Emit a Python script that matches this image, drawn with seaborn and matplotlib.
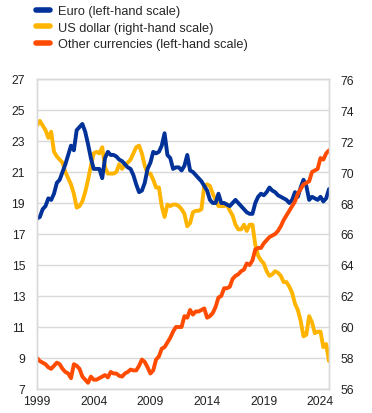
import matplotlib
matplotlib.use("Agg")
import matplotlib.pyplot as plt
import seaborn as sns
import numpy as np
import pandas as pd
from matplotlib.lines import Line2D

# Quarterly data, 1999Q1 - 2024Q4 (shares, %)
years = list(range(1999, 2025))
quarters = [1, 2, 3, 4]

euro = [
    18.0, 18.1, 18.6, 18.8,   # 1999
    19.3, 19.2, 19.6, 20.3,   # 2000
    20.5, 21.0, 21.5, 22.1,   # 2001
    22.7, 22.4, 23.7, 23.9,   # 2002
    24.1, 23.6, 22.8, 21.9,   # 2003
    21.2, 21.2, 21.2, 20.6,   # 2004
    21.9, 22.3, 22.1, 22.1,   # 2005
    22.0, 21.8, 21.7, 21.5,   # 2006
    21.3, 21.2, 20.8, 20.2,   # 2007
    19.7, 19.8, 20.3, 21.2,   # 2008
    21.6, 22.3, 22.2, 22.3,   # 2009
    22.7, 23.5, 22.1, 21.9,   # 2010
    21.2, 21.3, 21.3, 21.1,   # 2011
    21.4, 22.1, 21.1, 21.0,   # 2012
    20.8, 20.6, 20.4, 20.1,   # 2013
    19.8, 19.2, 19.0, 19.0,   # 2014
    19.6, 19.0, 19.0, 18.9,   # 2015
    18.8, 19.0, 19.2, 19.0,   # 2016
    18.8, 18.6, 18.4, 18.3,   # 2017
    18.3, 19.0, 19.4, 19.6,   # 2018
    19.5, 19.7, 20.0, 19.8,   # 2019
    19.7, 19.5, 19.4, 19.3,   # 2020
    19.2, 19.0, 19.2, 19.7,   # 2021
    19.4, 20.0, 20.5, 20.1,   # 2022
    19.2, 19.4, 19.3, 19.2,   # 2023
    19.4, 19.1, 19.3, 19.9,   # 2024
]

usd = [
    73.0, 73.3, 73.0, 72.7,   # 1999
    72.2, 72.6, 71.3, 71.0,   # 2000
    70.8, 70.6, 70.0, 69.6,   # 2001
    69.2, 68.6, 67.7, 67.8,   # 2002
    68.1, 68.7, 69.5, 70.4,   # 2003
    71.2, 71.3, 71.2, 71.6,   # 2004
    70.3, 69.9, 69.9, 69.9,   # 2005
    70.0, 70.5, 70.2, 70.5,   # 2006
    70.6, 70.8, 71.2, 71.6,   # 2007
    71.7, 71.2, 70.4, 69.9,   # 2008
    69.9, 69.5, 69.0, 69.0,   # 2009
    67.8, 67.1, 67.9, 67.8,   # 2010
    67.9, 67.9, 67.8, 67.6,   # 2011
    67.3, 66.5, 66.7, 67.4,   # 2012
    67.5, 67.5, 67.6, 69.1,   # 2013
    69.2, 69.1, 68.6, 68.2,   # 2014
    67.8, 67.8, 67.8, 67.9,   # 2015
    67.5, 67.2, 66.6, 66.3,   # 2016
    66.3, 66.6, 66.2, 66.6,   # 2017
    66.6, 65.3, 64.6, 64.3,   # 2018
    64.1, 63.6, 63.3, 63.4,   # 2019
    63.6, 63.5, 63.3, 62.9,   # 2020
    62.9, 62.6, 62.2, 61.5,   # 2021
    61.1, 60.4, 59.4, 59.5,   # 2022
    60.7, 60.3, 59.6, 59.7,   # 2023
    59.7, 58.7, 58.9, 57.8,   # 2024
]

other = [
    9.0, 8.8, 8.7, 8.6,       # 1999
    8.4, 8.3, 8.5, 8.7,       # 2000
    8.6, 8.3, 8.1, 8.0,       # 2001
    7.7, 8.6, 8.5, 8.3,       # 2002
    7.8, 7.6, 7.4, 7.8,       # 2003
    7.6, 7.6, 7.7, 7.8,       # 2004
    7.9, 7.75, 8.1, 8.0,      # 2005
    8.0, 7.85, 7.8, 8.0,      # 2006
    8.1, 8.25, 8.2, 8.2,      # 2007
    8.5, 8.9, 8.75, 8.4,      # 2008
    8.0, 8.2, 8.9, 9.1,       # 2009
    9.6, 9.7, 10.0, 10.3,     # 2010
    10.7, 11.0, 11.0, 11.0,   # 2011
    11.7, 11.6, 12.1, 11.8,   # 2012
    12.0, 12.0, 12.1, 12.2,   # 2013
    11.6, 11.7, 11.9, 12.3,   # 2014
    12.9, 13.0, 13.5, 13.5,   # 2015
    13.6, 14.1, 14.3, 14.4,   # 2016
    14.6, 14.7, 15.1, 15.0,   # 2017
    15.3, 16.0, 16.1, 16.1,   # 2018
    16.4, 16.6, 16.8, 16.9,   # 2019
    17.0, 17.2, 17.5, 17.9,   # 2020
    18.2, 18.5, 18.8, 19.1,   # 2021
    19.6, 19.9, 20.2, 20.3,   # 2022
    20.4, 21.0, 21.1, 21.2,   # 2023
    21.9, 21.8, 22.2, 22.4,   # 2024
]

labels = ["Euro (left-hand scale)", "US dollar (right-hand scale)",
          "Other currencies (left-hand scale)"]
colors = ["#003299", "#FFB400", "#FF4B00"]
xtick_labels = [1999, 2004, 2009, 2014, 2019, 2024]
left_ticks = list(range(7, 28, 2))
right_ticks = list(range(56, 77, 2))

t = [y + (q - 1) / 4 for y in years for q in quarters]
df = pd.DataFrame({"t": t, "euro": euro, "usd": usd, "other": other})

sns.set_style("white")
plt.rcParams["font.family"] = ["Liberation Sans", "DejaVu Sans"]

fig = plt.figure(figsize=(3.72, 4.14), dpi=100)
ax1 = fig.add_axes([37 / 372, 1 - 390 / 414, (329 - 37) / 372, 310 / 414])
ax2 = ax1.twinx()

grid_c = "#d9d9d9"
lw = 2.8

# USD on right-hand axis (drawn underneath)
sns.lineplot(data=df, x="t", y="usd", ax=ax2, color=colors[1], lw=lw,
             legend=False, solid_capstyle="round")
sns.lineplot(data=df, x="t", y="euro", ax=ax1, color=colors[0], lw=lw,
             legend=False, solid_capstyle="round")
sns.lineplot(data=df, x="t", y="other", ax=ax1, color=colors[2], lw=lw,
             legend=False, solid_capstyle="round")

ax1.set_zorder(ax2.get_zorder() + 1)
ax1.patch.set_visible(False)

ax1.set_xlim(1999, 2024.75)
ax1.set_ylim(7, 27)
ax2.set_ylim(56, 76)
ax1.set_xticks(xtick_labels)
ax1.set_xticklabels([str(v) for v in xtick_labels])
ax1.set_yticks(left_ticks)
ax2.set_yticks(right_ticks)

# grid on the lower axis
ax2.grid(True, axis="both", color=grid_c, lw=1.0)
ax2.set_axisbelow(True)
ax1.grid(False)
ax2.set_xticks(xtick_labels)

for ax in (ax1, ax2):
    ax.set_xlabel("")
    ax.set_ylabel("")
    for s in ax.spines.values():
        s.set_color(grid_c)
        s.set_linewidth(1.0)

fs = 8.7
ax1.tick_params(axis="y", length=0, pad=8.5, labelsize=fs, colors="#222222")
ax1.tick_params(axis="x", length=0, pad=4, labelsize=fs, colors="#222222")
ax2.tick_params(axis="y", length=0, pad=8, labelsize=fs, colors="#222222")
ax2.tick_params(axis="x", length=0, labelbottom=False)

handles = [Line2D([0], [0], color=c, lw=4) for c in colors]
fig.legend(handles, labels, loc="upper left", bbox_to_anchor=(0.097, 0.985),
           frameon=False, fontsize=9.2, handlelength=1.05, handletextpad=0.7,
           labelspacing=0.36, borderaxespad=0, borderpad=0)

fig.savefig("out.png", dpi=100)
